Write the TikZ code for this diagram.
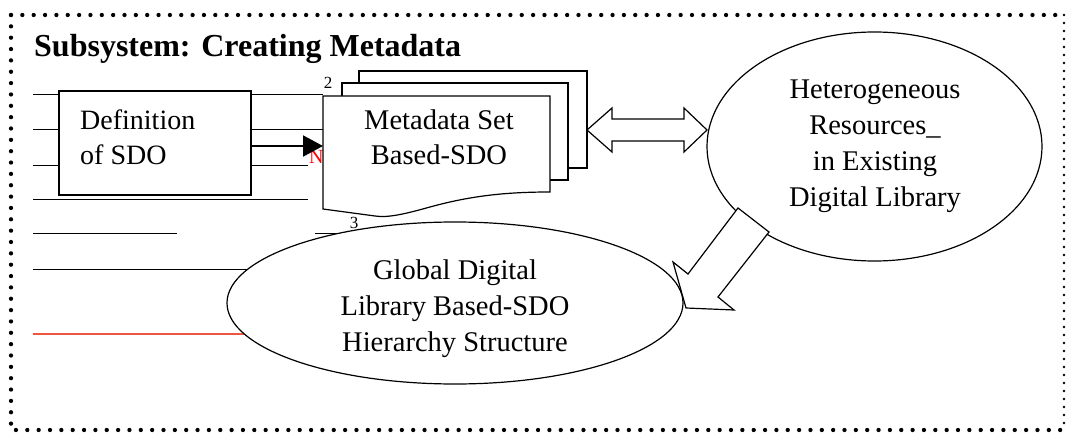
\documentclass[tikz,border=0pt]{standalone}
\usepackage{fontspec}
\setmainfont{Liberation Serif}
\usetikzlibrary{arrows.meta,shapes.geometric}
\definecolor{lineRed}{RGB}{240,85,64}
\begin{document}
\begin{tikzpicture}[x=1pt,y=-1pt,
  thinline/.style={line width=0.9pt},
  page/.style={draw,line width=1.2pt,fill=white},
  bodytext/.style={font=\fontsize{28.5}{36}\selectfont,inner sep=0pt,align=center},
  hollow/.style={draw,line width=1.2pt,fill=white,line join=miter},
  frame/.style={line width=4.3pt,dash pattern=on 0pt off 11.35pt,line cap=round}]
\useasboundingbox (0,0) rectangle (1066,433);
% frame
\draw[frame] (11,15) -- (1063,15);
\draw[frame] (11,15) -- (11,430) -- (1063,430);
\draw[line width=2.6pt,dash pattern=on 0pt off 8pt,line cap=round] (1064,15) -- (1064,430);
% title
\node[anchor=base west,inner sep=0pt,font=\fontsize{32}{38}\selectfont\bfseries] (title) at (34,57) {Subsystem: Creating Metadata};
% underscore lines
\draw[thinline] (33,94) -- (59,94);
\draw[thinline] (251,94) -- (323,94);
\draw[thinline] (33,129) -- (59,129);
\draw[thinline] (251,129) -- (323,129);
\draw[thinline] (33,165) -- (59,165);
\draw[thinline] (251,165) -- (308,165);
\draw[thinline] (33,199) -- (308,199);
\draw[thinline] (33,233) -- (177,233);
\draw[thinline] (315,233) -- (360,233);
\draw[thinline] (33,269) -- (270,269);
\draw[thinline,lineRed,line width=1.3pt] (33,334) -- (260,334);
% small labels
\node[anchor=base,inner sep=0pt,font=\fontsize{17}{20}\selectfont] (two) at (328,88.5) {2};
\node[anchor=base,inner sep=0pt,font=\fontsize{17}{20}\selectfont] (three) at (354,228.5) {3};
\node[anchor=base west,inner sep=0pt,text=red,font=\fontsize{20}{24}\selectfont] (redN) at (309,164) {N};
% Definition box
\node[draw,line width=1.2pt,minimum width=192pt,minimum height=104pt,inner sep=0pt] (def) at (155,143) {};
\node[bodytext,align=left,anchor=west,font=\fontsize{28}{35}\selectfont] (deftext) at (80,137) {Definition\\of SDO};
% metadata stack
\draw[page] (359,71) rectangle (587,168);
\draw[page] (342,83) rectangle (568,180);
\coordinate (frontNW) at (323,96);
\coordinate (frontNE) at (550,96);
\draw[page] (frontNW) -- (frontNE) -- (550,192)
  .. controls (505,192) and (470,196) .. (430,207)
  .. controls (405,214) and (388,218) .. (375,216)
  -- (323,209) -- cycle;
\node[bodytext,font=\fontsize{28.5}{35}\selectfont] (meta) at (439,137) {Metadata Set\\Based-SDO};
% arrow def -> metadata
\coordinate (arrowY) at (0,146);
\draw[line width=2pt,-{Triangle[length=20pt,width=21pt]}] (def.east |- arrowY) -- (frontNW |- arrowY);
% heterogeneous ellipse
\node[ellipse,draw,line width=1.2pt,fill=white,minimum width=335pt,minimum height=229pt,inner sep=0pt] (het) at (874.5,146.5) {};
\node[bodytext] (hettext) at (875,146.5) {Heterogeneous\\Resources\_\\in Existing\\Digital Library};
% global ellipse
\node[ellipse,draw,line width=1.2pt,fill=white,minimum width=456pt,minimum height=162pt,inner sep=0pt] (glob) at (455,303) {};
\node[bodytext] (globtext) at (455,309) {Global Digital\\Library Based-SDO\\Hierarchy Structure};
% hollow double arrow
\draw[hollow] (587,130) -- (612,108) -- (612,119) -- (684,119) -- (684,108) -- (707,130)
  -- (684,152) -- (684,141) -- (612,141) -- (612,152) -- cycle;
% hollow arrow het -> global
\draw[hollow] (738,208) -- (769,232) -- (718,297) -- (734,310) -- (686,308) -- (673,262) -- (688,274) -- cycle;
\end{tikzpicture}
\end{document}
